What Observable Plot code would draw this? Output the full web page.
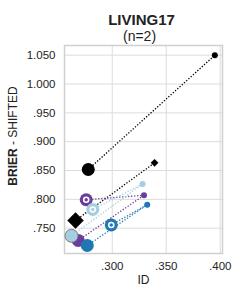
<!DOCTYPE html>
<html>
<head>
<meta charset="utf-8">
<script src="https://cdn.jsdelivr.net/npm/d3@7"></script>
<script src="https://cdn.jsdelivr.net/npm/@observablehq/plot@0.6"></script>
<style>
  html, body { margin: 0; padding: 0; background: #fff; }
  #chart svg { display: block; }
</style>
</head>
<body>
<div id="chart"></div>
<script>
// ---- data ----
const title = "LIVING17";
const subtitle = "(n=2)";
const xLabel = "ID";
const yLabelBold = "BRIER";
const yLabelRest = " - SHIFTED";

const xTicks = [0.300, 0.350, 0.400];
const xTickLabels = [".300", ".350", ".400"];
const yTicks = [0.750, 0.800, 0.850, 0.900, 0.950, 1.000, 1.050];
const yTickLabels = [".750", ".800", ".850", ".900", ".950", "1.000", "1.050"];

// reference (unshifted) point of each model
const refModel = ["A", "B", "C", "D", "E"];
const refX = [0.3950, 0.3392, 0.3281, 0.3294, 0.3324];
const refY = [1.0500, 0.8634, 0.8267, 0.8071, 0.7908];

// shifted points
const shiftModel = ["A", "B", "D", "C", "E", "D", "C", "E"];
const shiftKind  = ["solid", "solid", "ring", "ring", "ring", "solid", "solid", "solid"];
const shiftX = [0.2778, 0.2660, 0.2759, 0.2820, 0.2991, 0.2685, 0.2623, 0.2769];
const shiftY = [0.8518, 0.7634, 0.7993, 0.7824, 0.7556, 0.7287, 0.7368, 0.7200];

// ---- styles (kept separate from data) ----
const colorOf = {A: "#000000", B: "#000000", C: "#a6cee3", D: "#6a3d9a", E: "#1f78b4"};
const symbolOf = {A: "circle", B: "diamond", C: "circle", D: "circle", E: "circle"};

const refs = refModel.map((m, i) => ({model: m, x: refX[i], y: refY[i]}));
const refByModel = Object.fromEntries(refs.map(r => [r.model, r]));
const shifts = shiftModel.map((m, i) => ({
  model: m, kind: shiftKind[i], x: shiftX[i], y: shiftY[i],
  x2: refByModel[m].x, y2: refByModel[m].y
}));

const circ = d => symbolOf[d.model] === "circle";
const dia = d => symbolOf[d.model] === "diamond";

const shiftCircles = shifts.filter(circ);
const shiftDiamonds = shifts.filter(dia);
const ringPts = shifts.filter(d => d.kind === "ring");

const plot = Plot.plot({
  width: 241,
  height: 299,
  marginLeft: 64,
  marginRight: 19,
  marginTop: 45,
  marginBottom: 46,
  style: {fontFamily: "'Liberation Sans', Arial, sans-serif", fontSize: "11.5px", color: "#222", background: "#fff"},
  x: {domain: [0.2558, 0.4021], ticks: xTicks, tickFormat: d => xTickLabels[xTicks.indexOf(d)], tickSize: 0, tickPadding: 8, label: null},
  y: {domain: [0.7061, 1.0668], ticks: yTicks, tickFormat: d => yTickLabels[yTicks.indexOf(d)], tickSize: 0, tickPadding: 9, label: null},
  marks: [
    Plot.gridX(xTicks, {stroke: "#dcdcdc", strokeOpacity: 1, strokeWidth: 1}),
    Plot.gridY(yTicks, {stroke: "#dcdcdc", strokeOpacity: 1, strokeWidth: 1}),
    Plot.frame({stroke: "#d0d0d0", strokeWidth: 1.5}),
    Plot.link(shifts, {x1: "x", y1: "y", x2: "x2", y2: "y2", stroke: d => colorOf[d.model], strokeWidth: 1.3, strokeDasharray: "1.3,1.7"}),
    // reference points
    Plot.dot(refs.filter(circ), {x: "x", y: "y", r: 3, fill: d => colorOf[d.model], stroke: "none"}),
    Plot.dot(refs.filter(dia), {x: "x", y: "y", r: 3.1, symbol: "square", rotate: 45, fill: d => colorOf[d.model], stroke: "none"}),
    // shifted points
    Plot.dot(shiftDiamonds, {x: "x", y: "y", r: 6.6, symbol: "square", rotate: 45, fill: d => colorOf[d.model], stroke: "none"}),
    Plot.dot(shiftCircles.filter(d => d.kind === "solid" && d.model === "A"), {x: "x", y: "y", r: 6.5, fill: d => colorOf[d.model], stroke: "none"}),
    Plot.dot(ringPts, {x: "x", y: "y", r: 6.5, fill: d => colorOf[d.model], stroke: "none"}),
    Plot.dot(ringPts, {x: "x", y: "y", r: 3.3, fill: "#fff", stroke: "none"}),
    Plot.dot(ringPts, {x: "x", y: "y", r: 1.7, fill: d => colorOf[d.model], stroke: "none"}),
    Plot.dot(shiftCircles.filter(d => d.kind === "solid" && d.model === "D"), {x: "x", y: "y", r: 6.5, fill: d => colorOf[d.model], stroke: "none"}),
    Plot.dot(shiftCircles.filter(d => d.kind === "solid" && d.model === "C"), {x: "x", y: "y", r: 6.5, fill: d => colorOf[d.model], stroke: "#7f7f7f", strokeWidth: 1}),
    Plot.dot(shiftCircles.filter(d => d.kind === "solid" && d.model === "E"), {x: "x", y: "y", r: 6.5, fill: d => colorOf[d.model], stroke: "none"}),
    // titles
    Plot.text([title], {text: d => d, frameAnchor: "top", dy: -31, dx: -2, fontSize: 15, fontWeight: "bold", fill: "#222", letterSpacing: "1.1px"}),
    Plot.text([subtitle], {text: d => d, frameAnchor: "top", dy: -14, dx: -4, fontSize: 14, fill: "#222"}),
    Plot.text([xLabel], {text: d => d, frameAnchor: "bottom", dy: 30, fontSize: 12, fill: "#222"})
  ]
});

const svg = d3.select(plot);
const yl = svg.append("text")
  .attr("transform", "translate(14,136) rotate(-90)")
  .attr("text-anchor", "middle")
  .attr("dominant-baseline", "middle")
  .attr("font-size", 12)
  .attr("fill", "#222");
yl.append("tspan").attr("font-weight", "bold").text(yLabelBold);
yl.append("tspan").text(yLabelRest);

document.getElementById("chart").appendChild(plot);
</script>
</body>
</html>
